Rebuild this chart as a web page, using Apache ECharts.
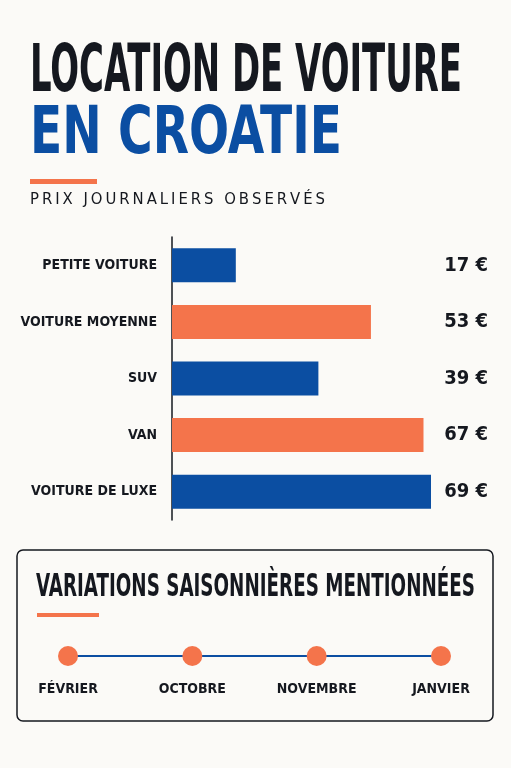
<!DOCTYPE html>
<html><head><meta charset="utf-8">
<script src="https://cdn.jsdelivr.net/npm/echarts@6/dist/echarts.min.js"></script>
<style>html,body{margin:0;padding:0;background:#fbfaf7}#c{width:511px;height:768px}</style>
</head><body><div id="c"></div>
<script>
const categories = ['PETITE VOITURE','VOITURE MOYENNE','SUV','VAN','VOITURE DE LUXE'];
const prices = [17,53,39,67,69];
const priceLabels = ['17 €','53 €','39 €','67 €','69 €'];
const months = ['FÉVRIER','OCTOBRE','NOVEMBRE','JANVIER'];
const monthMarks = [1,1,1,1];

const BLUE='#0b4ea2', ORANGE='#f4744b', DARK='#15181f';
const COND='"DejaVu Sans Condensed","DejaVu Sans",sans-serif';
const cv=document.createElement('canvas').getContext('2d');
function fit(text,size,weight,target,fam){cv.font=weight+' '+size+'px '+(fam||'"DejaVu Sans Condensed"');return target/cv.measureText(text).width;}
function title(text,x,y,size,color,target){
  return {type:'text',x:x,y:y,scaleX:fit(text,size,'bold',target),style:{text:text,fill:color,font:'bold '+size+'px "DejaVu Sans Condensed"',textVerticalAlign:'top'}};
}
const sub='PRIX JOURNALIERS OBSERVÉS'.split('').join('\u2009');
const chart=echarts.init(document.getElementById('c'));
chart.setOption({
  backgroundColor:'#fbfaf7',
  animation:false,
  graphic:[
    title('LOCATION DE VOITURE',30,41,66,DARK,432),
    title('EN CROATIE',30,103,66,BLUE,312),
    {type:'rect',shape:{x:30,y:179,width:67,height:5},style:{fill:ORANGE}},
    {type:'text',x:30,y:193,scaleX:fit(sub,15,'500',295,'"DejaVu Sans"'),style:{text:sub,fill:DARK,font:'500 15px "DejaVu Sans"'}},
    {type:'rect',shape:{x:17,y:550,width:476,height:171,r:6},style:{fill:'#fbfaf7',stroke:DARK,lineWidth:1.5},z:-1},
    title('VARIATIONS SAISONNIÈRES MENTIONNÉES',36,572,32,DARK,439),
    {type:'rect',shape:{x:37,y:613,width:62,height:4},style:{fill:ORANGE}}
  ],
  grid:[{left:172,right:80,top:237,bottom:248},{left:68,right:70,top:646,height:20}],
  xAxis:[
    {type:'value',min:0,max:69,show:false,gridIndex:0},
    {type:'category',gridIndex:1,data:months,boundaryGap:false,axisLine:{show:false},axisTick:{show:false},
     axisLabel:{interval:0,color:DARK,fontFamily:COND,fontWeight:'bold',fontSize:14,margin:16}}
  ],
  yAxis:[
    {type:'category',gridIndex:0,data:categories,inverse:true,axisTick:{show:false},
     axisLine:{lineStyle:{color:DARK,width:1.5}},
     axisLabel:{color:DARK,fontFamily:COND,fontWeight:'bold',fontSize:14,margin:15}},
    {type:'category',gridIndex:0,data:priceLabels,inverse:true,position:'right',axisTick:{show:false},axisLine:{show:false},
     axisLabel:{color:DARK,fontFamily:COND,fontWeight:'bold',fontSize:20,margin:57,align:'right'}},
    {type:'value',gridIndex:1,min:0,max:2,show:false}
  ],
  series:[
    {type:'bar',xAxisIndex:0,yAxisIndex:0,data:prices,barWidth:34,
     itemStyle:{color:p=>p.dataIndex%2?ORANGE:BLUE}},
    {type:'line',xAxisIndex:1,yAxisIndex:2,data:monthMarks,symbol:'circle',symbolSize:20,
     lineStyle:{color:BLUE,width:2},itemStyle:{color:ORANGE}}
  ]
});
</script></body></html>
